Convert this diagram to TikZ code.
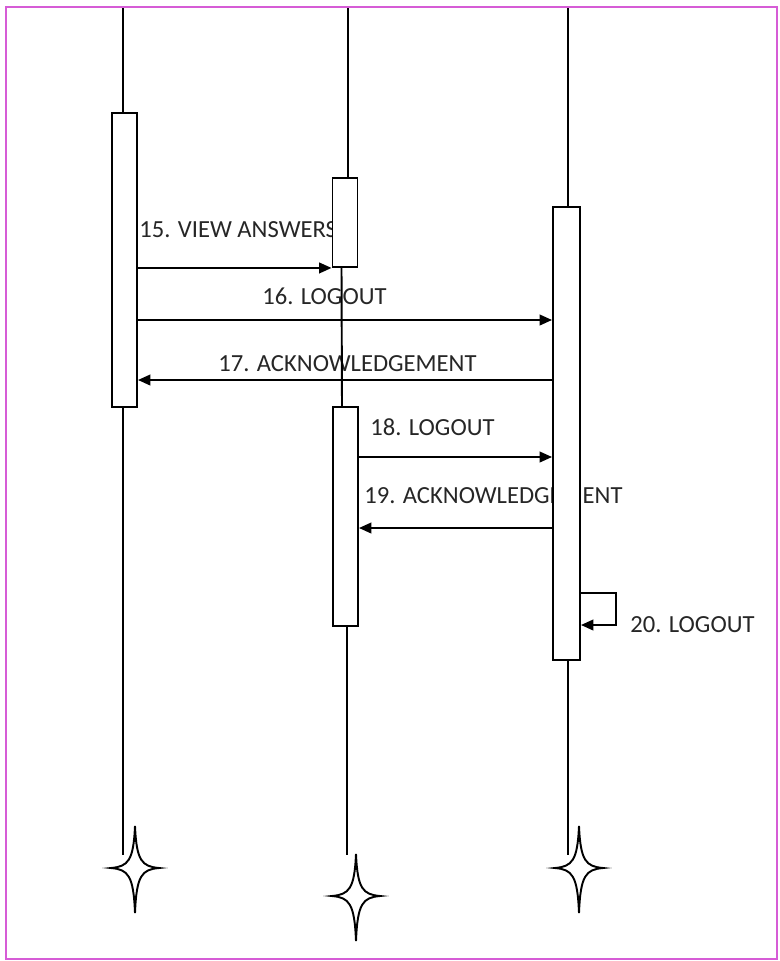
\documentclass[tikz,border=0pt]{standalone}
\usepackage{fontspec}
\setmainfont{Carlito}
\usetikzlibrary{arrows.meta,positioning}
\definecolor{framepink}{HTML}{D65CD6}

\begin{document}
\begin{tikzpicture}[
  x=0.02cm, y=-0.02cm,
  font=\fontsize{14}{17}\selectfont,
  lifeline/.style={draw=black, line width=1.1pt},
  activation/.style={draw=black, line width=1.1pt, fill=white, minimum width=0.5cm, inner sep=0pt},
  message/.style={-{Triangle[length=7pt,width=6pt]}, draw=black, line width=1.1pt},
  msglabel/.style={anchor=base west, inner sep=0pt, text=black!85},
  endstar/.pic={
    \draw[line width=1.1pt] (0,-42) .. controls (1.5,-7) and (7,-1.5) .. (24,0)
      .. controls (7,1.5) and (1.5,7) .. (0,45)
      .. controls (-1.5,7) and (-7,1.5) .. (-24,0)
      .. controls (-7,-1.5) and (-1.5,-7) .. cycle;}
]
\useasboundingbox (0,0) rectangle (779,961);
\draw[framepink, line width=1.1pt] (6,7) rectangle (777,959);

% message texts (partly hidden by the bars)
\node[msglabel] (lbl15) at (139,237) {15. VIEW ANSWERS};
\node[msglabel] (lbl16) at (262,304) {16. LOGOUT};
\node[msglabel] (lbl17) at (218,371) {17. ACKNOWLEDGEMENT};
\node[msglabel] (lbl18) at (370,435) {18. LOGOUT};
\node[msglabel] (lbl19) at (364,503) {19. ACKNOWLEDGEMENT};
\node[msglabel] (lbl20) at (630,632) {20. LOGOUT};

% activation bars
\node[activation, minimum height=5.88cm] (act1) at (124.5,260) {};
\node[activation, minimum height=1.78cm] (act2a) at (345,222.5) {};
\node[activation, minimum height=4.38cm] (act2b) at (345.5,516.5) {};
\node[activation, minimum width=0.54cm, minimum height=9.06cm] (act3) at (566.5,433.5) {};

\coordinate (end1) at (123,855);
\coordinate (end2) at (347,855);
\coordinate (end3) at (568,855);

% lifelines
\draw[lifeline] (end1 |- 0,8) -- (end1 |- act1.north);
\draw[lifeline] (end1 |- act1.south) -- (end1);
\draw[lifeline] ([xshift=0.06cm]act2a.north |- 0,8) -- ([xshift=0.06cm]act2a.north);
\draw[lifeline] ([xshift=-0.07cm]act2a.south) -- ([xshift=-0.07cm]act2b.north);
\draw[lifeline] (end2 |- act2b.south) -- (end2);
\draw[lifeline] (end3 |- 0,8) -- (end3 |- act3.north);
\draw[lifeline] (end3 |- act3.south) -- (end3);

% messages
\draw[message] (act1.east |- act2a.south west) -- (act2a.south west);
\draw[message] (act1.east |- 0,320) -- (act3.west |- 0,320);
\draw[message] (act3.west |- 0,380) -- (act1.east |- 0,380);
\draw[message] (act2b.east |- 0,457) -- (act3.west |- 0,457);
\draw[message] (act3.west |- 0,528) -- (act2b.east |- 0,528);
\draw[message] (act3.east |- 0,593) -- ++(35,0) -- ++(0,32) -- (act3.east |- 0,625);

% terminations
\pic (star1) at (135,868) {endstar};
\pic (star2) at (356,896) {endstar};
\pic (star3) at (579,868) {endstar};
\end{tikzpicture}
\end{document}
